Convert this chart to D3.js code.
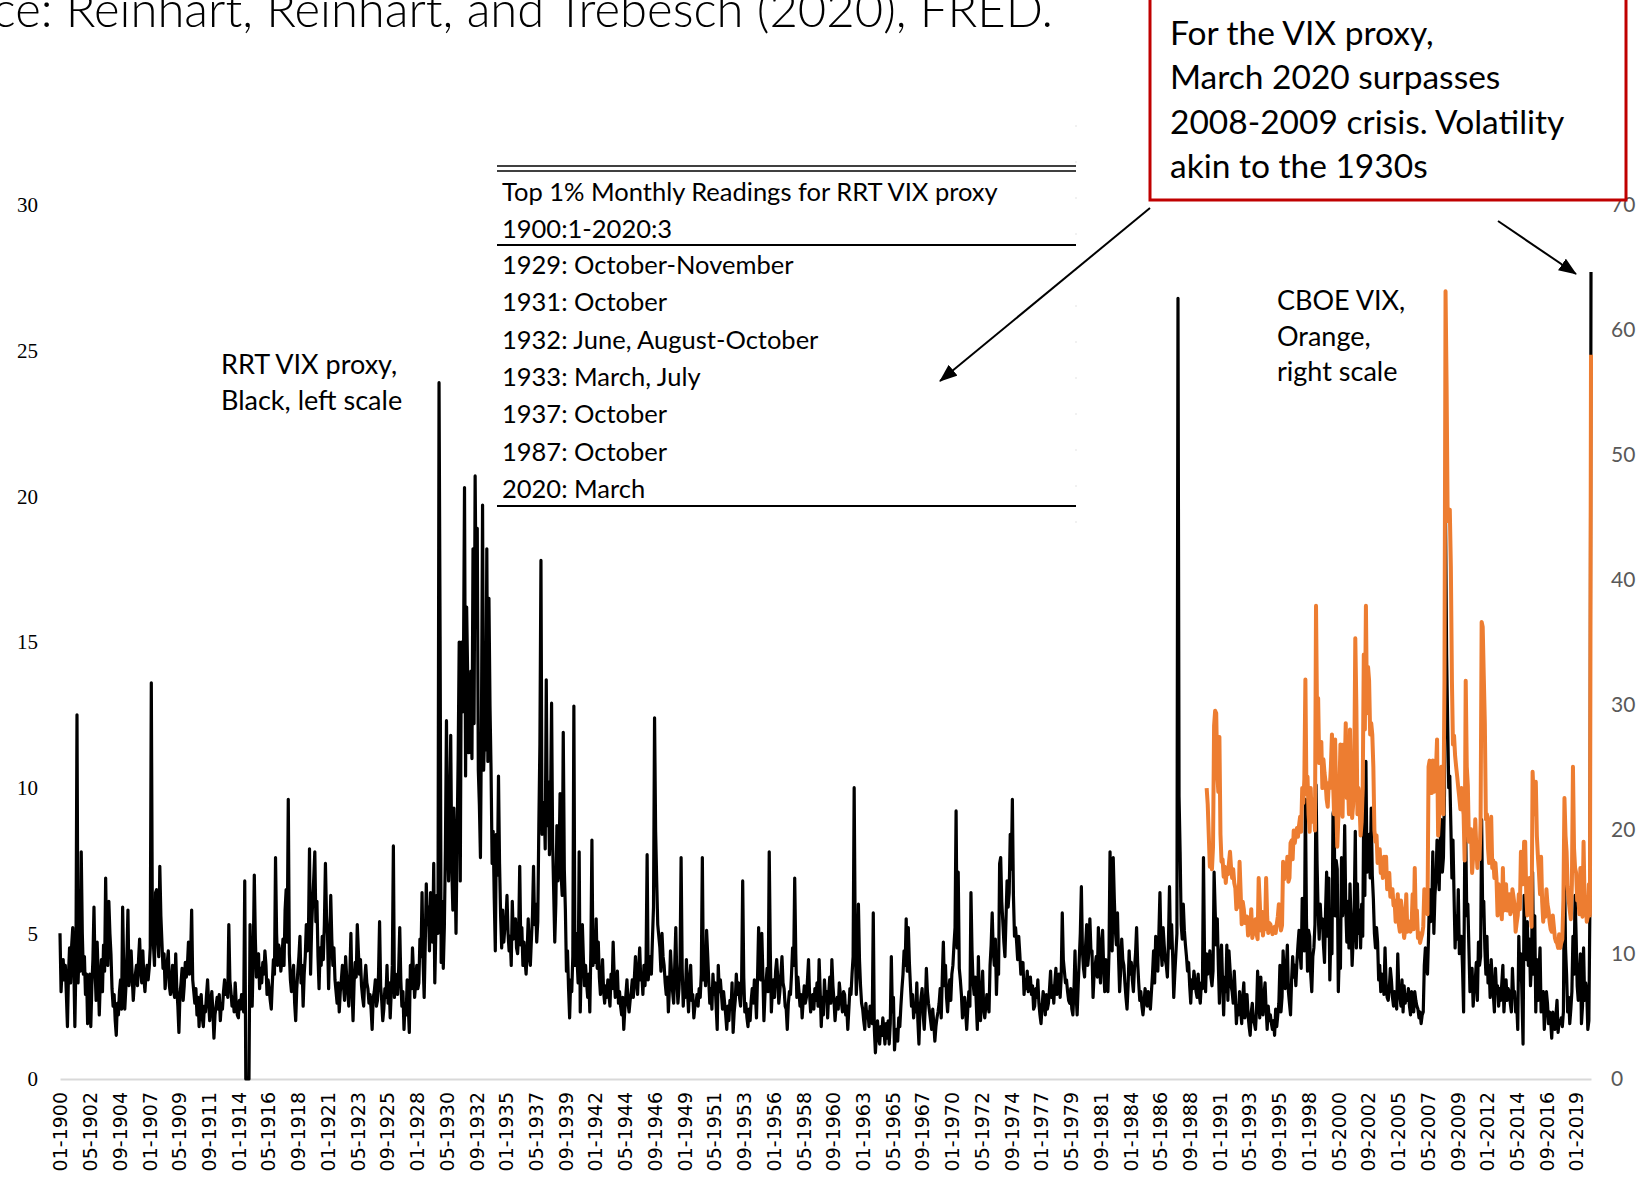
<!DOCTYPE html>
<html>
<head>
<meta charset="utf-8">
<script src="https://cdn.jsdelivr.net/npm/d3@7"></script>
<style>
  body { margin: 0; background: #fff; }
  svg text { font-family: Lato, "Open Sans", sans-serif; }
</style>
</head>
<body>
<div id="chart"></div>
<script>
// RRT VIX proxy, monthly, 1900:1 - 2020:3 (left scale), one row per year
var rrtProxy = [
  5.0,3.0,3.8,4.1,3.4,3.9,2.9,1.8,3.6,4.5,3.3,4.6,
  5.2,3.9,1.8,4.0,12.5,3.3,4.4,3.7,7.8,5.0,3.6,4.2,
  2.9,3.6,1.9,2.6,3.6,1.8,3.2,4.1,5.9,3.8,2.7,4.7,
  3.5,2.2,3.4,4.1,3.0,4.6,3.7,6.9,4.5,3.9,6.1,5.0,
  4.3,3.1,2.5,2.9,2.0,1.5,2.6,2.2,3.0,3.4,2.4,5.9,
  3.8,2.4,3.1,4.2,5.8,3.2,3.8,4.4,3.5,2.7,3.3,3.6,
  3.9,3.2,4.1,4.8,3.7,3.3,4.4,3.5,3.0,3.6,3.9,3.4,
  3.8,4.5,13.6,5.2,4.6,3.9,6.4,6.5,4.8,4.2,7.3,5.6,
  4.7,3.8,4.3,3.1,3.6,4.0,4.4,3.2,2.9,3.4,3.9,3.0,
  2.8,4.3,3.1,2.5,1.6,2.9,3.3,3.8,2.7,3.2,4.0,3.5,
  3.9,4.7,3.6,4.2,5.8,3.4,3.0,2.6,3.1,2.2,2.8,1.8,   // 1910
  2.6,2.9,2.1,1.8,2.5,2.3,2.9,3.4,2.6,2.0,2.7,3.0,
  2.3,1.4,2.2,2.5,2.8,2.4,2.9,2.0,2.6,2.4,3.0,3.4,
  2.9,3.2,2.8,5.3,3.4,3.0,2.5,2.8,2.3,3.3,2.6,2.2,
  2.1,2.7,2.4,2.9,2.5,2.3,6.8,0,0,0,0,5.3,
  3.4,2.5,4.2,7.0,4.8,3.5,3.7,4.3,3.1,3.8,3.3,4.0,
  3.6,4.4,3.9,2.9,3.4,3.1,2.7,2.4,3.3,4.1,3.6,7.6,
  5.0,3.9,4.6,4.4,3.7,4.1,4.8,3.9,5.8,6.5,4.7,9.6,
  4.3,3.4,3.0,3.5,3.9,2.6,2.0,3.1,3.7,4.2,4.9,3.3,
  3.9,2.5,3.6,4.2,5.3,4.4,5.0,7.9,3.6,5.2,6.1,6.9,
  7.8,5.4,6.1,4.2,3.1,4.5,3.9,4.9,4.1,5.3,7.4,5.6,   // 1920
  4.9,3.1,4.6,6.3,4.8,3.9,4.5,3.4,3.0,2.6,3.3,2.3,
  3.0,3.4,3.9,3.2,2.7,4.2,3.5,3.0,2.5,3.6,5.0,3.1,
  2.0,3.3,4.0,3.5,5.3,4.4,3.6,4.1,3.2,2.8,2.5,3.4,
  3.9,3.3,3.1,2.6,2.9,2.4,1.7,2.8,3.0,3.4,2.5,2.7,
  3.6,5.4,3.2,2.7,2.0,2.4,3.1,2.8,3.9,2.6,3.3,2.1,
  3.0,3.9,8.0,2.8,3.6,3.3,2.9,3.8,5.2,3.4,2.5,3.0,
  1.7,2.6,2.2,3.4,2.5,1.6,3.9,3.1,4.5,3.6,2.8,3.3,
  3.9,3.1,3.3,4.8,4.2,6.4,4.0,2.8,4.6,6.7,5.3,5.9,
  4.4,6.4,5.5,4.7,7.4,3.3,5.1,6.3,5.0,23.9,15.2,4.0,
  6.1,3.8,5.2,7.9,12.3,8.4,6.8,9.0,11.8,7.3,5.8,9.3,   // 1930
  7.5,5.0,8.2,11.0,15.0,6.8,15.0,12.6,14.1,20.3,10.4,16.2,
  13.8,11.2,12.5,14.0,11.0,18.2,12.2,20.7,16.2,18.9,10.6,9.4,
  7.6,12.5,19.7,10.6,12.0,11.3,18.2,10.9,16.5,12.8,10.6,7.4,
  8.5,6.2,4.4,8.4,7.0,10.4,7.4,5.6,4.5,5.8,4.7,5.2,
  5.4,6.3,5.0,4.4,4.9,3.9,6.1,4.8,5.1,5.5,4.5,4.3,
  5.0,7.3,4.6,5.2,3.9,4.7,4.1,3.6,4.4,5.5,4.2,3.9,
  4.8,5.6,7.3,5.3,6.0,4.7,5.4,8.7,11.5,17.8,8.4,9.0,
  9.5,7.9,13.7,8.7,10.2,7.7,9.4,12.9,8.1,6.4,4.7,6.0,
  8.7,6.8,7.5,9.8,7.0,6.3,11.9,7.2,5.8,3.7,4.4,3.1,
  2.1,3.4,3.0,4.2,12.8,3.9,5.0,4.1,3.3,7.8,2.3,4.0,   // 1940
  5.3,4.1,3.2,3.9,3.3,2.8,3.6,2.3,4.4,8.2,3.9,4.8,
  4.0,5.5,3.8,4.7,3.5,2.9,3.3,4.1,3.0,2.6,3.2,2.8,
  3.4,2.9,2.5,3.6,3.1,4.7,3.5,2.8,3.2,3.7,2.6,3.0,
  2.5,2.2,2.8,1.7,2.4,2.9,3.4,2.6,2.3,2.7,3.0,3.4,
  2.8,3.5,4.2,3.3,2.9,3.8,4.5,3.4,3.6,2.9,3.9,3.2,
  4.1,7.7,3.4,3.9,4.2,3.6,4.8,5.9,12.4,8.5,6.8,5.3,
  4.9,4.5,3.7,5.0,4.2,3.9,3.3,2.9,3.5,2.3,3.1,4.4,
  3.6,3.0,2.6,3.9,5.2,3.4,2.6,3.1,4.0,7.6,3.8,2.5,
  3.2,2.8,4.1,3.0,2.3,3.4,3.9,2.7,2.9,2.1,2.5,2.6,
  2.9,2.5,3.1,2.8,3.6,7.6,3.4,4.0,3.2,5.1,4.3,3.4,   // 1950
  2.6,3.1,2.4,3.6,2.9,3.3,2.5,1.7,3.9,3.0,3.4,2.9,
  2.4,3.0,2.6,2.2,1.7,2.5,2.0,2.7,2.4,3.3,1.6,2.3,
  2.7,3.6,2.9,3.3,2.8,2.5,3.4,6.8,3.5,2.3,2.6,2.1,
  1.8,2.4,2.0,2.7,3.1,2.6,3.4,2.9,2.1,3.5,5.2,3.7,
  3.4,5.0,3.6,2.0,2.9,3.3,3.8,3.0,7.8,4.4,2.3,3.1,
  3.4,2.8,3.7,4.1,3.5,2.6,3.0,3.6,4.2,3.3,3.1,2.5,
  2.4,1.7,2.6,3.0,2.9,3.6,4.5,3.9,6.9,4.3,2.8,3.5,
  3.0,2.5,2.9,2.1,2.7,3.2,2.6,2.8,3.4,4.1,2.9,2.3,
  2.6,2.9,2.4,3.1,2.7,3.3,2.5,4.1,3.0,1.8,2.8,2.2,
  3.4,2.7,3.0,2.1,2.9,3.5,2.6,4.1,3.2,2.7,2.0,2.5,   // 1960
  2.8,2.4,3.3,2.9,2.6,2.3,3.0,2.9,2.2,2.5,1.7,2.4,
  3.1,2.9,3.6,4.2,10.0,4.8,2.9,3.7,6.0,4.1,3.2,2.6,
  2.4,2.0,1.7,2.6,2.1,2.3,1.8,2.5,2.2,1.9,5.7,1.7,
  0.9,1.6,2.0,1.4,1.2,1.8,1.5,2.1,1.7,1.2,1.9,1.4,
  2.0,1.2,1.9,4.2,2.3,2.8,1.0,1.6,1.7,1.3,2.1,1.8,
  2.5,3.1,3.6,4.4,3.9,5.5,3.7,5.2,4.0,3.2,2.5,2.9,
  2.1,2.6,2.3,3.3,2.0,1.2,2.4,2.8,3.1,2.2,1.7,2.5,
  3.8,3.0,2.6,2.3,2.0,1.7,2.4,1.9,1.3,1.8,2.1,2.3,
  2.6,3.1,2.1,3.5,4.7,3.2,3.9,2.8,2.3,3.0,3.4,2.7,
  3.6,3.9,4.6,5.2,9.2,4.5,7.1,3.8,3.4,2.9,2.1,2.6,   // 1970
  2.8,2.3,1.7,2.4,3.0,2.5,6.4,4.4,3.3,2.9,3.5,2.6,
  1.7,4.2,2.6,2.0,2.9,3.7,2.4,2.1,2.5,2.9,2.6,2.3,
  3.9,4.6,5.7,4.4,3.9,4.8,2.9,4.1,3.6,7.4,7.6,6.1,
  5.4,4.7,4.2,5.5,6.8,5.9,6.4,8.4,7.2,9.6,6.3,4.9,
  5.2,4.7,4.1,4.9,4.3,3.6,3.7,4.0,2.9,3.4,3.1,3.7,
  3.0,3.3,3.5,2.9,3.2,2.4,2.5,3.1,2.8,3.4,2.6,2.2,
  1.9,2.5,3.0,2.7,2.2,2.9,2.4,2.6,3.1,3.7,2.8,3.2,
  2.6,3.3,3.8,2.9,3.1,3.6,2.8,3.5,5.7,4.1,3.7,3.3,
  3.4,3.0,2.7,2.6,3.1,2.4,2.2,3.0,4.4,2.9,2.2,3.2,
  4.1,5.0,6.6,4.4,3.8,3.5,4.6,5.3,3.9,4.3,5.5,4.4,   // 1980
  4.4,2.8,3.6,3.9,4.2,3.5,5.2,4.0,3.3,4.7,5.1,3.8,
  3.0,4.1,3.6,3.0,4.3,7.8,5.0,4.4,7.6,6.2,5.1,4.6,
  5.7,4.2,3.0,3.7,4.8,4.1,3.9,3.3,2.8,2.4,3.2,4.4,
  3.6,4.0,3.4,3.0,3.8,4.3,5.2,4.0,3.3,2.7,3.0,2.5,
  2.2,2.6,3.1,2.8,2.5,3.0,2.7,2.4,3.0,3.6,4.4,3.3,
  4.9,4.2,3.7,5.0,6.4,4.5,3.9,5.2,4.6,4.1,3.9,3.5,
  4.7,6.6,4.5,5.3,4.2,2.8,3.6,4.3,5.0,26.8,9.7,7.8,
  5.3,4.8,6.0,5.1,4.6,4.2,3.7,4.0,3.2,2.6,3.4,3.1,
  3.7,3.4,3.0,2.8,3.6,2.9,2.6,3.3,3.1,7.6,4.2,3.0,
  4.3,3.6,3.9,4.4,3.5,3.2,3.7,7.1,5.8,4.6,5.5,3.9,   // 1990
  2.6,4.1,4.6,3.3,2.2,3.5,3.0,4.6,2.7,4.4,3.8,3.2,
  3.0,2.6,3.7,2.9,1.9,2.5,2.2,3.0,2.4,1.9,2.8,3.3,
  2.1,2.6,2.9,2.2,1.8,1.5,2.3,2.6,2.0,1.9,1.7,2.4,
  3.7,2.8,2.1,3.5,2.6,2.2,2.9,3.3,2.4,1.7,2.5,2.0,
  2.2,1.9,1.7,2.0,1.5,2.4,1.8,2.2,2.6,3.9,2.3,2.8,
  4.4,3.6,3.1,3.8,4.6,3.0,2.6,2.2,3.4,4.2,3.5,3.9,
  3.2,4.0,4.6,5.1,4.3,3.8,6.2,5.0,4.4,9.6,5.5,3.7,
  5.1,4.9,3.6,3.0,4.2,4.5,5.3,10.1,7.4,5.7,4.8,6.0,
  5.2,5.5,4.6,4.0,5.8,7.1,4.9,6.9,3.4,5.0,4.3,9.1,
  9.3,5.6,7.5,7.2,3.0,4.4,3.8,7.6,5.6,6.2,8.7,5.9,   // 2000
  4.7,6.1,4.5,6.7,5.4,3.9,4.8,5.9,8.5,4.5,6.7,5.0,
  5.8,4.5,6.0,4.9,9.6,6.3,10.9,7.1,7.8,8.4,6.9,9.3,
  7.0,6.2,5.0,4.5,5.2,4.7,3.4,3.9,3.0,3.6,3.4,2.9,
  4.5,3.3,2.8,2.7,3.1,3.8,3.4,2.8,2.5,3.0,2.7,2.4,
  4.3,3.0,2.8,2.5,3.4,2.3,3.2,2.6,2.9,2.7,3.1,2.5,
  2.2,3.0,2.6,2.3,3.0,2.7,2.5,2.4,2.1,2.3,1.9,2.2,
  2.3,3.9,4.5,4.1,3.6,4.9,6.5,5.4,5.8,7.8,5.0,6.3,
  6.9,8.2,7.4,6.5,8.2,8.9,7.1,7.6,9.8,19.2,14.6,12.2,
  10.0,10.4,8.7,6.9,8.2,6.3,4.5,5.6,4.8,6.5,4.3,4.9,
  4.9,3.8,2.3,7.4,8.5,5.6,6.0,4.5,3.0,3.6,3.8,2.5,   // 2010
  3.1,3.4,4.0,2.7,4.7,3.9,4.2,8.9,5.6,6.1,4.5,3.6,
  4.9,3.3,3.9,2.8,4.1,3.4,2.9,2.3,3.8,3.0,3.2,2.5,
  3.1,2.7,3.3,3.9,2.3,3.0,3.4,2.7,3.1,3.0,2.6,2.3,
  3.8,2.9,3.0,2.3,2.6,1.7,4.9,3.4,4.3,2.8,1.2,6.3,
  4.6,4.1,5.4,3.9,4.8,3.2,4.0,7.1,3.6,5.6,2.3,4.1,
  2.7,3.6,4.5,2.3,2.9,3.0,1.7,2.4,3.0,2.6,1.9,2.3,
  2.0,1.4,2.3,1.9,1.7,2.2,2.7,1.6,2.0,1.9,2.1,1.8,
  2.3,7.4,4.5,3.6,2.3,2.8,1.9,2.4,3.0,4.9,3.6,6.3,
  4.9,3.2,2.7,3.5,4.3,1.9,2.5,4.5,2.7,3.3,3.0,1.7,
  2.0,6.0,27.7                                          // 2020
];

// CBOE VIX, monthly, 1990:1 - 2020:3 (right scale)
var vixStartIndex = 1080;   // 1990:1 is month 1080 after 1900:1
var cboeVix = [
  23.3,22.0,19.5,17.0,17.8,16.8,18.6,28.3,29.5,29.3,24.5,23.0,   // 1990
  27.4,19.6,17.4,17.6,16.2,17.0,15.7,16.9,16.4,17.3,18.2,16.9,
  16.1,16.8,15.7,15.3,13.6,14.5,13.8,17.4,15.0,12.4,14.2,13.6,
  12.5,12.8,13.0,11.5,12.3,11.9,13.6,11.3,11.8,12.0,12.8,11.6,
  11.2,16.1,14.2,11.9,13.4,11.5,12.2,12.0,16.1,13.0,11.7,12.5,
  12.4,12.0,11.6,11.9,12.2,11.7,12.4,13.0,14.0,12.6,11.9,12.3,
  17.4,16.0,17.0,16.4,17.8,15.8,16.1,18.9,19.1,17.6,19.9,18.9,
  19.6,20.1,19.4,20.3,21.0,19.8,23.3,22.1,24.0,32.0,22.8,24.2,
  21.2,19.8,23.3,20.6,21.2,22.4,19.9,37.9,28.7,30.5,25.3,26.0,
  27.0,23.3,25.6,24.5,23.8,22.4,21.8,23.7,23.3,25.0,27.6,24.0,
  21.2,27.2,22.5,18.6,20.8,23.0,26.8,23.3,21.0,26.8,24.5,28.5,   // 2000
  22.5,24.0,21.2,28.0,23.3,20.9,22.0,24.6,35.3,29.8,21.2,23.3,
  22.0,19.5,20.6,23.3,34.0,28.0,37.9,29.3,33.0,31.9,27.6,28.5,
  27.6,25.0,19.9,19.0,19.5,17.3,17.8,18.4,16.5,17.2,16.1,17.8,
  16.8,17.8,15.2,16.0,16.5,14.6,14.8,15.2,13.9,14.3,12.6,13.3,
  14.8,12.4,11.8,14.3,13.6,12.2,11.3,12.0,14.8,11.8,12.5,12.6,
  11.8,12.2,14.8,12.0,16.9,12.6,13.5,11.3,11.7,10.9,11.3,11.6,
  12.2,15.2,13.6,14.8,13.2,25.0,25.5,23.7,22.9,25.5,23.0,24.6,
  24.8,27.2,19.5,21.0,22.0,25.0,23.2,21.2,31.9,63.1,55.4,44.7,
  44.7,45.6,41.0,31.9,26.8,27.5,25.9,25.0,24.2,23.3,22.5,21.6,
  23.3,22.0,21.2,17.5,31.9,25.0,23.5,19.0,19.5,20.0,16.5,17.8,   // 2010
  17.8,20.8,18.5,16.9,19.0,17.6,20.5,36.6,36.2,32.3,28.5,20.8,
  21.2,18.5,17.3,19.9,21.0,16.9,17.5,16.1,17.3,16.0,13.1,15.6,
  14.3,13.9,12.8,16.9,13.5,15.2,15.6,13.5,14.0,14.8,13.2,13.5,
  15.2,14.6,13.9,11.8,12.5,13.1,14.8,13.6,18.2,16.5,15.6,19.0,
  19.0,14.8,13.1,14.3,16.1,13.9,12.2,24.6,22.5,21.2,23.8,19.5,
  17.8,16.5,14.8,17.8,14.2,12.6,14.3,13.0,15.2,14.0,13.5,12.6,
  12.0,11.8,13.1,12.2,11.3,11.0,10.9,10.5,11.6,10.5,10.9,11.2,
  14.3,22.5,19.5,18.2,15.4,14.3,13.5,12.8,15.6,25.0,18.5,16.9,
  16.5,14.3,14.8,13.2,16.9,13.5,13.0,19.0,13.9,14.6,12.6,13.0,
  15.6,13.1,58.0                                                  // 2020
];

// category labels shown on the x axis, one every 28 months
var tickInterval = 28;
var xTickLabels = [
  "01-1900","05-1902","09-1904","01-1907","05-1909","09-1911","01-1914","05-1916",
  "09-1918","01-1921","05-1923","09-1925","01-1928","05-1930","09-1932","01-1935",
  "05-1937","09-1939","01-1942","05-1944","09-1946","01-1949","05-1951","09-1953",
  "01-1956","05-1958","09-1960","01-1963","05-1965","09-1967","01-1970","05-1972",
  "09-1974","01-1977","05-1979","09-1981","01-1984","05-1986","09-1988","01-1991",
  "05-1993","09-1995","01-1998","05-2000","09-2002","01-2005","05-2007","09-2009",
  "01-2012","05-2014","09-2016","01-2019"
];
var leftTicks = [0, 5, 10, 15, 20, 25, 30];
var rightTicks = [0, 10, 20, 30, 40, 50, 60, 70];

var tableHead = ["Top 1% Monthly Readings for RRT VIX proxy", "1900:1-2020:3"];
var tableRows = ["1929: October-November", "1931: October", "1932: June, August-October",
  "1933: March, July", "1937: October", "1987: October", "2020: March"];
var boxLines = ["For the VIX proxy,", "March 2020 surpasses", "2008-2009 crisis. Volatility", "akin to the 1930s"];

// Chart dimensions
var width = 1651, height = 1182;
var plot = {left: 60, right: 1591, top: 205, bottom: 1079};

var svg = d3.select("#chart").append("svg")
  .attr("width", width)
  .attr("height", height);

svg.append("defs").append("marker")
  .attr("id", "arrow")
  .attr("markerUnits", "userSpaceOnUse")
  .attr("markerWidth", 18).attr("markerHeight", 14)
  .attr("refX", 17).attr("refY", 7)
  .attr("orient", "auto")
  .append("path")
  .attr("d", "M0,0 L18,7 L0,14 Z")
  .attr("fill", "#000");

var xScale = d3.scaleLinear().domain([0, rrtProxy.length - 1]).range([plot.left, plot.right]),
    yLeft = d3.scaleLinear().domain([0, 30]).range([plot.bottom, plot.top]),
    yRight = d3.scaleLinear().domain([0, 70]).range([plot.bottom, plot.top]);

// Title, cut at the top-left like the slide it came from
svg.append("text")
  .attr("x", 1053).attr("y", 27)
  .attr("text-anchor", "end")
  .style("font-size", "49px")
  .style("font-weight", 300)
  .text("Source: Reinhart, Reinhart, and Trebesch (2020), FRED.");

// x axis (gray baseline with rotated category labels)
var xAxis = d3.axisBottom(xScale)
  .tickValues(xTickLabels.map(function(d, i) { return i * tickInterval; }))
  .tickFormat(function(d) { return xTickLabels[d / tickInterval]; })
  .tickSize(0).tickSizeOuter(0);

var gx = svg.append("g")
  .attr("transform", "translate(0," + plot.bottom + ")")
  .call(xAxis);
gx.select(".domain").attr("stroke", "#d9d9d9").attr("stroke-width", 2);
gx.selectAll("text")
  .attr("transform", "rotate(-90)")
  .attr("x", -13).attr("y", 0).attr("dy", "0.36em")
  .style("text-anchor", "end")
  .style("font-family", "'DejaVu Sans', sans-serif")
  .style("font-size", "19px")
  .attr("fill", "#000");

// left axis
var gl = svg.append("g")
  .attr("transform", "translate(38,0)")
  .call(d3.axisLeft(yLeft).tickValues(leftTicks).tickSize(0).tickPadding(0));
gl.select(".domain").remove();
gl.selectAll("text")
  .style("font-family", "'Liberation Serif', serif")
  .style("font-size", "21px")
  .attr("fill", "#000");

// right axis
var gr = svg.append("g")
  .attr("transform", "translate(1611,0)")
  .call(d3.axisRight(yRight).tickValues(rightTicks).tickSize(0).tickPadding(0));
gr.select(".domain").remove();
gr.selectAll("text")
  .style("font-size", "21px")
  .attr("fill", "#595959");

// the two series
var lineLeft = d3.line()
  .x(function(d, i) { return xScale(i); })
  .y(function(d) { return yLeft(d); });
var lineRight = d3.line()
  .x(function(d, i) { return xScale(i + vixStartIndex); })
  .y(function(d) { return yRight(d); });

svg.append("path")
  .datum(rrtProxy)
  .attr("d", lineLeft)
  .attr("fill", "none")
  .attr("stroke", "#000")
  .attr("stroke-width", 3.2)
  .attr("stroke-linejoin", "round");

svg.append("path")
  .datum(cboeVix)
  .attr("d", lineRight)
  .attr("fill", "none")
  .attr("stroke", "#ed7d31")
  .attr("stroke-width", 4)
  .attr("stroke-linejoin", "round");

// series labels
svg.append("text").attr("x", 221).attr("y", 374).style("font-size", "27px").text("RRT VIX proxy,");
svg.append("text").attr("x", 221).attr("y", 410).style("font-size", "27px").text("Black, left scale");
["CBOE VIX,", "Orange,", "right scale"].forEach(function(t, i) {
  svg.append("text").attr("x", 1277).attr("y", 310 + i * 35.5).style("font-size", "27px").text(t);
});

// table of top readings
var tbl = svg.append("g");
var tx0 = 497, tx1 = 1076;
tbl.append("line").attr("x1", tx0).attr("x2", tx1).attr("y1", 166).attr("y2", 166).attr("stroke", "#000").attr("stroke-width", 1.5);
tbl.append("line").attr("x1", tx0).attr("x2", tx1).attr("y1", 171).attr("y2", 171).attr("stroke", "#000").attr("stroke-width", 1.5);
tbl.append("line").attr("x1", tx0).attr("x2", tx1).attr("y1", 245).attr("y2", 245).attr("stroke", "#000").attr("stroke-width", 2);
tbl.append("line").attr("x1", tx0).attr("x2", tx1).attr("y1", 506).attr("y2", 506).attr("stroke", "#000").attr("stroke-width", 2);
tbl.append("line").attr("x1", tx1).attr("x2", tx1).attr("y1", 125).attr("y2", 545)
  .attr("stroke", "#e3e3e3").attr("stroke-width", 1).attr("stroke-dasharray", "2,34");
tableHead.forEach(function(t, i) {
  tbl.append("text").attr("x", 502).attr("y", 201 + i * 36.5).style("font-size", "25.5px").text(t);
});
tableRows.forEach(function(t, i) {
  tbl.append("text").attr("x", 502).attr("y", 274 + i * 37.3).style("font-size", "25.5px").text(t);
});

// red call-out box
svg.append("rect")
  .attr("x", 1150).attr("y", -4).attr("width", 476).attr("height", 204)
  .attr("fill", "#fff").attr("stroke", "#c00000").attr("stroke-width", 3);
boxLines.forEach(function(t, i) {
  svg.append("text").attr("x", 1170).attr("y", 45 + i * 44.3).style("font-size", "33.5px").text(t);
});

// arrows
svg.append("line")
  .attr("x1", 1150).attr("y1", 208).attr("x2", 940).attr("y2", 381)
  .attr("stroke", "#000").attr("stroke-width", 2).attr("marker-end", "url(#arrow)");
svg.append("line")
  .attr("x1", 1498).attr("y1", 221).attr("x2", 1576).attr("y2", 274)
  .attr("stroke", "#000").attr("stroke-width", 2).attr("marker-end", "url(#arrow)");
</script>
</body>
</html>
